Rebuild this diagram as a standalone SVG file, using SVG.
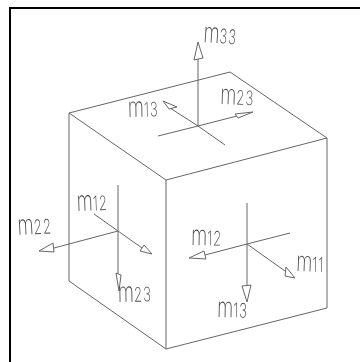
<svg xmlns="http://www.w3.org/2000/svg" width="360" height="362" viewBox="0 0 360 362">
<style>
.l{fill:none;stroke:#666;stroke-width:1}
.a{fill:#fff;stroke:#666;stroke-width:1}
.f{fill:none;stroke:#000;stroke-width:2}
#labels{opacity:.99}
text{font-family:Inter,"Liberation Sans",Arial,sans-serif;font-weight:200;fill:#444;font-size:28px}
.s{font-size:20px;letter-spacing:1.5px}
</style>
<rect x="0" y="0" width="360" height="362" fill="#fff"/>
<path class="f" d="M10 362V8H360"/>
<g id="cube">
<path class="l" d="M69 113L230 72L327 138L166 180ZM69 113V281L166 349V180M166 349L327 308V138"/>
</g>
<g id="connectors">
<path class="l" d="M198 126V59M198 126L170 108M198 126L225 145M198 126L158 136M198 126L237 116"/>
<path class="a" d="M198 42L194 60L203 58Z"/>
<path class="a" d="M163 101L177 107L169 109Z"/>
<path class="a" d="M253 112L235 114L238 118Z"/>
<path class="l" d="M118 185V274M118 231L94 214M118 231L142 248M118 231L54 248"/>
<path class="a" d="M152 254L140 251L144 245Z"/>
<path class="a" d="M39 251L53 243L54 252Z"/>
<path class="a" d="M119 291L116 273L121 275Z"/>
<path class="l" d="M247 203V285M247 244L290 233M247 244L205 255M247 244L285 271"/>
<path class="a" d="M189 258L204 251L206 259Z"/>
<path class="a" d="M295 278L285 276L286 267Z"/>
<path class="a" d="M247 302L242 286L251 285Z"/>
</g>
<g id="labels">
<text transform="translate(203 42) rotate(4) scale(.66 1)">m<tspan class="s">33</tspan></text>
<text transform="translate(128 117) rotate(-1) scale(.66 1)">m<tspan class="s">13</tspan></text>
<text transform="translate(220 104) rotate(2) scale(.66 1)">m<tspan class="s">23</tspan></text>
<text transform="translate(77 211) rotate(-2) scale(.66 1)">m<tspan class="s">12</tspan></text>
<text transform="translate(18 235) rotate(-3) scale(.66 1)">m<tspan class="s">22</tspan></text>
<text transform="translate(118 302) rotate(-1) scale(.66 1)">m<tspan class="s">23</tspan></text>
<text transform="translate(191 245) rotate(1) scale(.66 1)">m<tspan class="s">12</tspan></text>
<text transform="translate(296 271) rotate(2) scale(.66 1)">m<tspan class="s">11</tspan></text>
<text transform="translate(217 317) rotate(1) scale(.66 1)">m<tspan class="s">13</tspan></text>
</g>
</svg>
